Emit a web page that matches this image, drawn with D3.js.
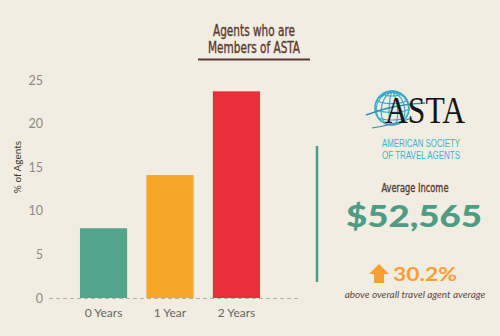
<!DOCTYPE html>
<meta charset="utf-8">
<style>
body { margin: 0; background: #f2ede3; }
svg { display: block; }
.axis text { font: 12.5px Lato, sans-serif; fill: #8d8a86; }
.xlab { font: 12px Lato, sans-serif; fill: #666; text-anchor: middle; }
.cond { font-family: "DejaVu Sans Condensed", sans-serif; fill: #5b3b30; stroke: #5b3b30; stroke-width: 0.35; text-anchor: middle; }
</style>
<svg width="500" height="336"></svg>
<script src="https://d3js.org/d3.v7.min.js"></script>
<script>

var categories = ["0 Years", "1 Year", "2 Years"],
    values = [8.0, 14.1, 23.7],
    colors = ["#52a48b", "#f8a62a", "#e9303a"],
    yTicks = [0, 5, 10, 15, 20, 25];

var svg = d3.select("svg");

svg.append("rect").attr("width", 500).attr("height", 336).attr("fill", "#f2ede3");

var x = d3.scaleBand().domain(categories).range([70, 270]).paddingInner(0.29).paddingOuter(0.15),
    y = d3.scaleLinear().domain([0, 25]).range([298, 80]);

// title
svg.append("text").attr("class", "cond").attr("x", 254).attr("y", 36)
    .attr("textLength", 82).attr("lengthAdjust", "spacingAndGlyphs")
    .style("font-size", "15px").text("Agents who are");
svg.append("text").attr("class", "cond").attr("x", 254).attr("y", 53)
    .attr("textLength", 92).attr("lengthAdjust", "spacingAndGlyphs")
    .style("font-size", "15px").text("Members of ASTA");
svg.append("line").attr("x1", 198).attr("x2", 310).attr("y1", 59.5).attr("y2", 59.5)
    .attr("stroke", "#5b3b30").attr("stroke-width", 2);

// y axis labels
var yAxis = svg.append("g").attr("class", "axis")
    .attr("transform", "translate(43,0)")
    .call(d3.axisLeft(y).tickValues(yTicks).tickSize(0).tickPadding(0));
yAxis.select(".domain").remove();

svg.append("text")
    .attr("transform", "translate(21,167) rotate(-90)")
    .attr("text-anchor", "middle")
    .style("font", "10px Lato, sans-serif").style("fill", "#3d3330")
    .text("% of Agents");

// bars
svg.selectAll(".bar").data(values).enter().append("rect")
    .attr("class", "bar")
    .attr("x", function(d, i) { return x(categories[i]); })
    .attr("y", function(d) { return y(d); })
    .attr("width", x.bandwidth())
    .attr("height", function(d) { return y(0) - y(d); })
    .attr("fill", function(d, i) { return colors[i]; });

// dashed baseline
svg.append("line").attr("x1", 49).attr("x2", 298).attr("y1", y(0) + 0.5).attr("y2", y(0) + 0.5)
    .attr("stroke", "#b5b0a8").attr("stroke-width", 1).attr("stroke-dasharray", "4,3");

svg.selectAll(".xlab").data(categories).enter().append("text")
    .attr("class", "xlab")
    .attr("x", function(d) { return x(d) + x.bandwidth() / 2; })
    .attr("y", 317)
    .text(function(d) { return d; });

// divider
svg.append("line").attr("x1", 317).attr("x2", 317).attr("y1", 146).attr("y2", 282)
    .attr("stroke", "#4e9c83").attr("stroke-width", 2.5);

// ASTA logo
var globe = d3.geoOrthographic().scale(17).translate([392, 108]).rotate([20, -15]);
var gpath = d3.geoPath(globe);
var logo = svg.append("g");
logo.append("path").datum(d3.geoGraticule().step([30, 30])()).attr("d", gpath)
    .attr("fill", "none").attr("stroke", "#3aa9c9").attr("stroke-width", 1.2);
logo.append("path").datum({type: "Sphere"}).attr("d", gpath)
    .attr("fill", "none").attr("stroke", "#3aa9c9").attr("stroke-width", 1.5);
logo.append("path").attr("d", "M366,115 Q395,104 425,103").attr("fill", "none")
    .attr("stroke", "#2c8fb0").attr("stroke-width", 1.4);
logo.append("path").attr("d", "M372,128 Q392,125 412,118").attr("fill", "none")
    .attr("stroke", "#2c8fb0").attr("stroke-width", 1.2);
logo.append("text").attr("x", 385).attr("y", 123)
    .attr("textLength", 80).attr("lengthAdjust", "spacingAndGlyphs")
    .style("font", "38px 'Liberation Serif', serif").style("fill", "#151515")
    .text("ASTA");
logo.append("text").attr("x", 421).attr("y", 147).attr("text-anchor", "middle")
    .attr("textLength", 78).attr("lengthAdjust", "spacingAndGlyphs")
    .style("font", "10px 'Liberation Sans', sans-serif").style("fill", "#3ab2d4")
    .text("AMERICAN SOCIETY");
logo.append("text").attr("x", 421).attr("y", 159).attr("text-anchor", "middle")
    .attr("textLength", 78).attr("lengthAdjust", "spacingAndGlyphs")
    .style("font", "10px 'Liberation Sans', sans-serif").style("fill", "#3ab2d4")
    .text("OF TRAVEL AGENTS");

// income block
svg.append("text").attr("class", "cond").attr("x", 415).attr("y", 192)
    .attr("textLength", 67).attr("lengthAdjust", "spacingAndGlyphs")
    .style("font-size", "12.5px").text("Average Income");
svg.append("text").attr("x", 414).attr("y", 227).attr("text-anchor", "middle")
    .attr("textLength", 136).attr("lengthAdjust", "spacingAndGlyphs")
    .style("font", "900 31px Lato, sans-serif").style("fill", "#4e9c83")
    .text("$52,565");

// arrow
svg.append("path")
    .attr("d", "M379,264 L389,274 L384,274 L384,283 L374,283 L374,274 L369,274 Z")
    .attr("fill", "#f6a033");
svg.append("text").attr("x", 393).attr("y", 281)
    .attr("textLength", 64).attr("lengthAdjust", "spacingAndGlyphs")
    .style("font", "bold 19px Lato, sans-serif").style("fill", "#f6a033")
    .text("30.2%");
svg.append("text").attr("x", 415).attr("y", 298).attr("text-anchor", "middle")
    .style("font", "italic 10px Lato, sans-serif").style("fill", "#5b4a42")
    .text("above overall travel agent average");

</script>
